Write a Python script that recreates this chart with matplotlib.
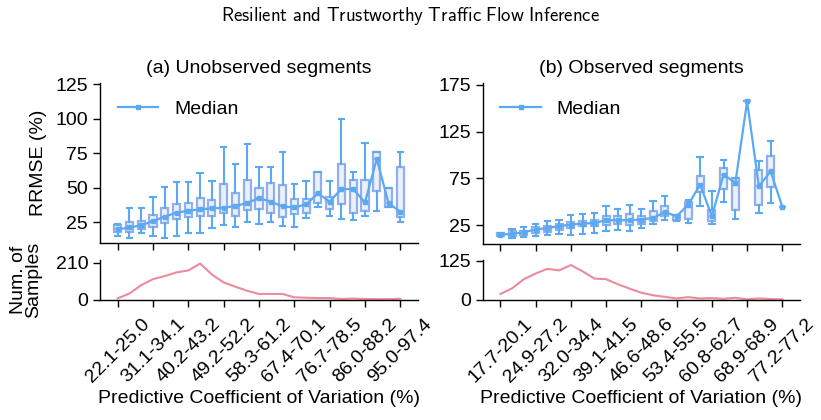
import matplotlib
matplotlib.use("Agg")
import matplotlib.pyplot as plt
import numpy as np

plt.rcParams['font.family'] = ['Liberation Sans', 'DejaVu Sans']
plt.rcParams['mathtext.fontset'] = 'cm'

# ---------------- data ----------------
labels_a = ["22.1-25.0", "31.1-34.1", "40.2-43.2", "49.2-52.2", "58.3-61.2",
            "67.4-70.1", "76.7-78.5", "86.0-88.2", "95.0-97.4"]
labels_b = ["17.7-20.1", "24.9-27.2", "32.0-34.4", "39.1-41.5", "46.6-48.6",
            "53.4-55.5", "60.8-62.7", "68.9-68.9", "77.2-77.2"]

med_a = [19.9, 21.3, 22.8, 25.9, 29.1, 32.0, 33.4, 34.4, 35.1, 35.6, 36.8, 39.1, 42.4,
         40.0, 36.5, 35.8, 38.0, 46.0, 40.0, 49.2, 49.0, 39.5, 71.0, 38.8, 32.7]
q1_a = [17.7, 18.2, 19.9, 21.8, 24.2, 27.4, 28.6, 29.8, 29.8, 31.5, 29.8, 34.2, 34.4,
        32.0, 29.1, 31.0, 32.0, 39.2, 34.6, 38.0, 32.0, 33.2, 48.0, 35.8, 28.6]
q3_a = [23.0, 25.2, 26.2, 30.3, 35.1, 38.0, 38.7, 42.9, 41.2, 52.6, 46.0, 55.7, 50.1,
        53.3, 51.8, 41.7, 41.8, 61.8, 43.1, 67.1, 55.7, 55.7, 75.8, 49.7, 65.4]
lo_a = [15.3, 13.8, 17.0, 15.3, 13.8, 15.3, 17.4, 17.0, 20.6, 23.0, 21.8, 25.0, 23.5,
        24.9, 22.5, 21.3, 27.9, 36.3, 29.5, 27.1, 26.6, 29.8, 33.4, 35.8, 25.4]
hi_a = [23.7, 35.1, 35.1, 43.1, 50.9, 54.5, 54.5, 60.5, 55.2, 79.4, 67.1, 81.6, 65.4,
        64.9, 75.8, 52.8, 55.2, 61.8, 55.2, 100.0, 61.3, 82.3, 75.8, 49.7, 76.3]
cnt_a = [9, 37, 84, 118, 135, 156, 167, 206, 144, 99, 75, 52, 34, 34, 34, 15, 13, 11,
         11, 6, 8, 6, 5, 5, 7]

med_b = [15.1, 15.6, 17.6, 20.4, 22.2, 24.0, 25.8, 26.8, 27.5, 30.4, 30.4, 30.4, 31.1,
         32.9, 39.0, 34.7, 47.1, 68.5, 34.7, 79.2, 70.3, 157.5, 66.7, 82.7, 44.6]
q1_b = [14.0, 13.3, 14.7, 16.9, 18.0, 20.4, 22.2, 24.0, 24.0, 25.8, 26.8, 25.8, 26.8,
        29.3, 35.4, 30.4, 31.8, 60.3, 29.3, 63.9, 41.1, 157.5, 47.1, 66.0, 44.6]
q3_b = [16.5, 18.6, 19.4, 23.3, 24.0, 26.8, 28.3, 29.3, 30.4, 34.6, 34.6, 37.2, 34.6,
        40.0, 45.3, 36.5, 49.6, 77.4, 41.8, 86.3, 75.6, 157.5, 84.5, 98.8, 44.6]
lo_b = [13.5, 11.5, 12.6, 14.0, 15.1, 16.2, 15.1, 16.2, 16.9, 18.6, 20.4, 19.4, 22.2,
        26.8, 31.1, 30.0, 27.5, 45.3, 26.8, 49.6, 31.8, 157.5, 38.2, 48.9, 44.6]
hi_b = [16.9, 21.1, 23.3, 26.8, 29.3, 31.1, 35.7, 37.2, 38.2, 46.0, 42.5, 47.1, 42.5,
        50.7, 56.0, 36.5, 52.5, 98.0, 61.4, 94.5, 75.6, 157.5, 93.4, 115.5, 44.6]
cnt_b = [19, 37, 66, 84, 99, 94, 111, 91, 68, 66, 50, 36, 23, 15, 10, 5, 9, 5, 6, 4,
         7, 2, 5, 3, 2]

# ---------------- style ----------------
BLUE = '#5aa9f2'
BOX_EDGE = '#8fb0ec'
BOX_FACE = '#eaf0fc'
PINK = '#ee8a9d'
FS = 14

fig = plt.figure(figsize=(8.21, 4.20), dpi=100)

axes_pos = {
    'a_top': [100/821, 1-243/420, 318/821, 160/420],
    'a_bot': [100/821, 1-300/420, 318/821, 40/420],
    'b_top': [482.7/821, 1-244/420, 317.3/821, 161/420],
    'b_bot': [482.7/821, 1-300/420, 317.3/821, 40/420],
}


def draw(top, bot, med, q1, q3, lo, hi, cnt, labels, title, ylim, yticks,
         cylim, cticks, left_labels):
    n = len(med)
    pos = np.arange(n)
    stats = [dict(med=med[i], q1=q1[i], q3=q3[i], whislo=lo[i], whishi=hi[i],
                  fliers=[]) for i in range(n)]
    top.bxp(stats, positions=pos, widths=0.6, patch_artist=True, showfliers=False,
            boxprops=dict(facecolor=BOX_FACE, edgecolor=BOX_EDGE, linewidth=1.6),
            whiskerprops=dict(color=BLUE, linewidth=1.5),
            capprops=dict(color=BLUE, linewidth=1.5),
            medianprops=dict(color=BOX_EDGE, linewidth=1.2),
            capwidths=0.45, manage_ticks=False)
    top.plot(pos, med, color=BLUE, lw=1.6, marker='s', ms=3, label='Median', zorder=5)
    top.set_xlim(-1.5, n + 0.5)
    top.set_ylim(*ylim)
    top.set_yticks(yticks)
    top.set_xticks(pos[::3])
    top.set_xticklabels([])
    top.set_title(title, fontsize=FS, pad=7)
    top.legend(loc='upper left', frameon=False, fontsize=FS,
               handlelength=2.1, borderaxespad=0.5, bbox_to_anchor=(0.0, 1.0))

    bot.plot(pos, cnt, color=PINK, lw=1.5)
    bot.set_xlim(-1.5, n + 0.5)
    bot.set_ylim(*cylim)
    bot.set_yticks(cticks)
    bot.set_xticks(pos[::3])
    bot.set_xticklabels(labels, rotation=45, ha='center', fontsize=FS)
    bot.tick_params(axis='x', pad=6)
    bot.set_xlabel('Predictive Coefficient of Variation (%)', fontsize=FS, labelpad=3)
    for ax in (top, bot):
        ax.spines['top'].set_visible(False)
        ax.spines['right'].set_visible(False)
        ax.tick_params(axis='both', labelsize=FS, length=5, width=1.0)
        for s in ('left', 'bottom'):
            ax.spines[s].set_linewidth(1.0)
    if left_labels:
        top.set_ylabel('RRMSE (%)', fontsize=FS, labelpad=6)
        bot.set_ylabel('Num. of\nSamples', fontsize=FS, linespacing=0.85, labelpad=10)


ax_at = fig.add_axes(axes_pos['a_top'])
ax_ab = fig.add_axes(axes_pos['a_bot'])
ax_bt = fig.add_axes(axes_pos['b_top'])
ax_bb = fig.add_axes(axes_pos['b_bot'])

draw(ax_at, ax_ab, med_a, q1_a, q3_a, lo_a, hi_a, cnt_a, labels_a,
     '(a) Unobserved segments', (10, 126), [25, 50, 75, 100, 125],
     (0, 226), [0, 210], True)
draw(ax_bt, ax_bb, med_b, q1_b, q3_b, lo_b, hi_b, cnt_b, labels_b,
     '(b) Observed segments', (5, 177), [25, 75, 125, 175],
     (0, 127), [0, 125], False)

fig.text(0.5, 1 - 16/420, r'$\mathsf{Resilient\ and\ Trustworthy\ Traffic\ Flow\ Inference}$',
         ha='center', va='center', fontsize=13.5)

fig.savefig('out.png', dpi=100)
